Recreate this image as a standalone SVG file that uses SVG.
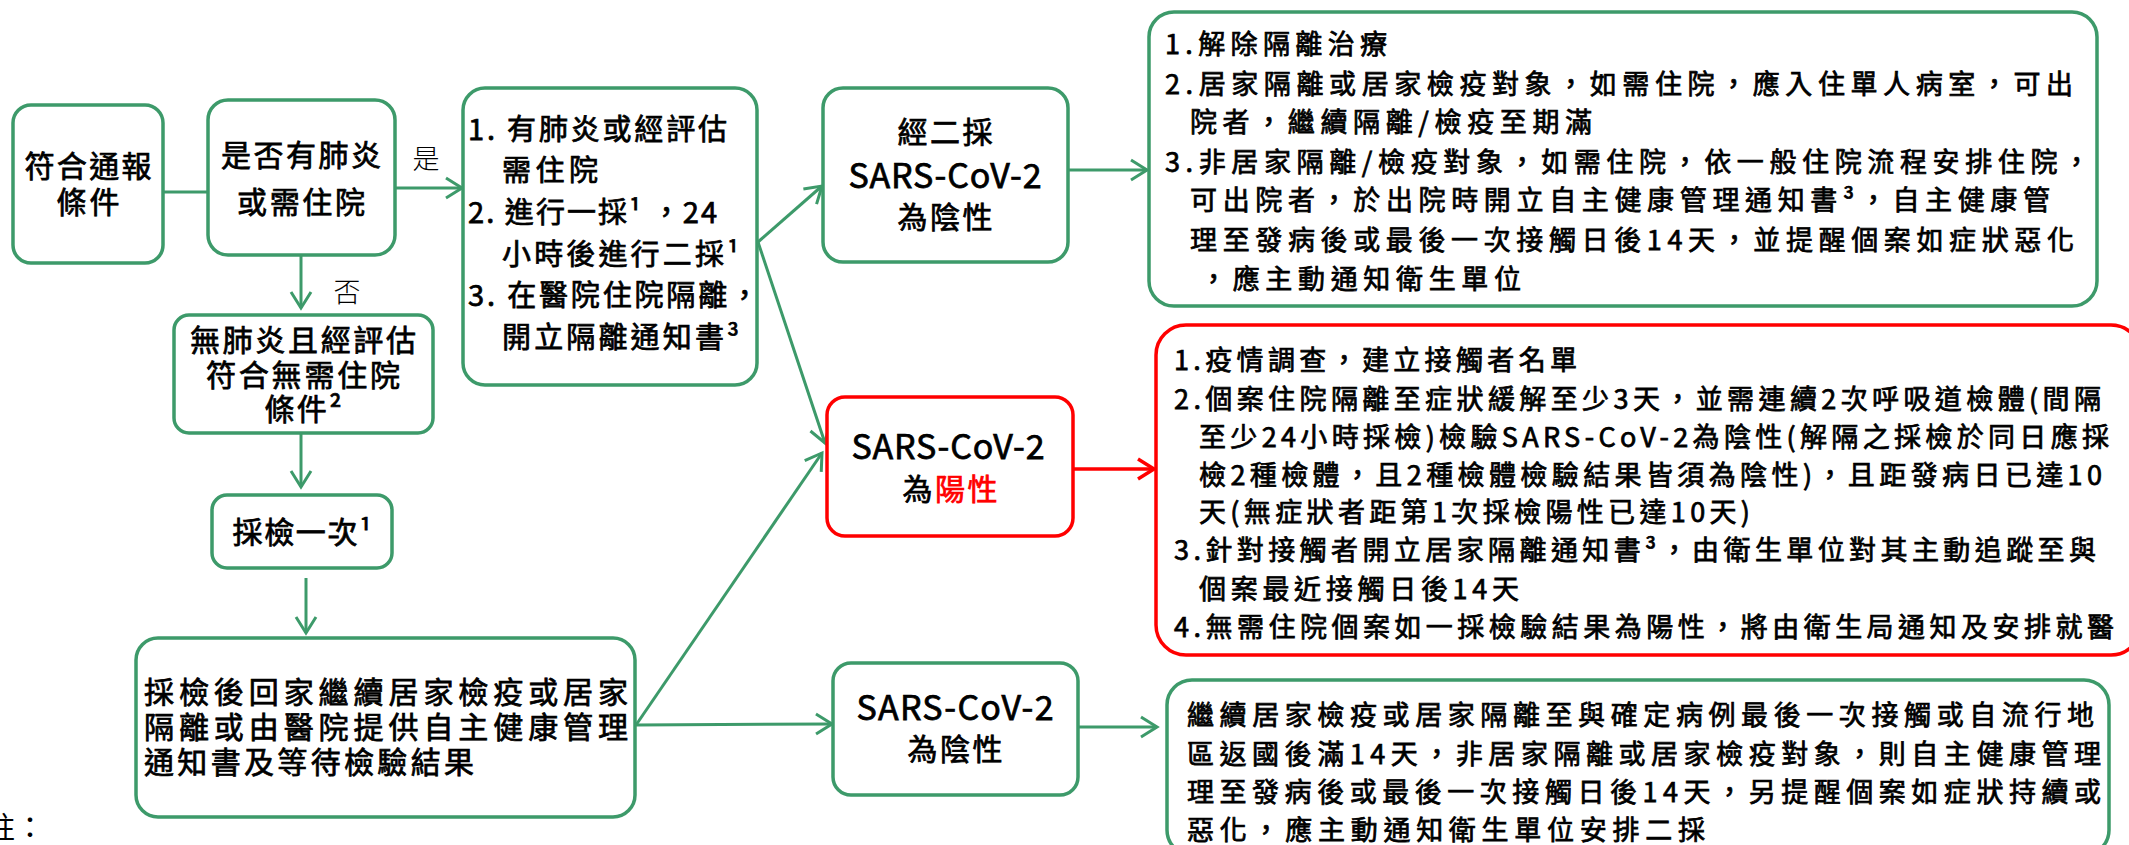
<svg xmlns="http://www.w3.org/2000/svg" width="2129" height="845" viewBox="0 0 2129 845">
<defs>
<style>
.bx{fill:#fff;stroke:#3D9A6A;stroke-width:3.5}
.rbx{fill:#fff;stroke:#FF0000;stroke-width:3.5}
.t{font-family:"Noto Sans CJK TC","Noto Sans",sans-serif;fill:#000;dominant-baseline:central}
.m{font-weight:400;stroke:#000;stroke-width:0.75}
.lt{font-weight:300}
.c{text-anchor:middle}
.f30{font-size:30px}
.f29{font-size:29px}
.f27{font-size:27px}
.f34{font-size:34px}
.cn{stroke:#3D9A6A;stroke-width:3;fill:none}
.rcn{stroke:#FF0000;stroke-width:3.5;fill:none}
.red{fill:#FF0000;stroke:#FF0000}
</style>
<marker id="ag" markerWidth="22" markerHeight="24" refX="18" refY="12" orient="auto" markerUnits="userSpaceOnUse">
<path d="M2,2 L18,12 L2,22" fill="none" stroke="#3D9A6A" stroke-width="3"/>
</marker>
<marker id="ar" markerWidth="22" markerHeight="24" refX="18" refY="12" orient="auto" markerUnits="userSpaceOnUse">
<path d="M2,2 L18,12 L2,22" fill="none" stroke="#FF0000" stroke-width="3.5"/>
</marker>
</defs>
<rect width="2129" height="845" fill="#fff"/>

<g id="connectors">
<line class="cn" x1="163" y1="192" x2="208" y2="192"/>
<line class="cn" x1="395" y1="188" x2="462" y2="188" marker-end="url(#ag)"/>
<line class="cn" x1="301" y1="255" x2="301" y2="308" marker-end="url(#ag)"/>
<line class="cn" x1="301" y1="433" x2="301" y2="487" marker-end="url(#ag)"/>
<line class="cn" x1="306" y1="578" x2="306" y2="633" marker-end="url(#ag)"/>
<line class="cn" x1="758" y1="242" x2="822" y2="186" marker-end="url(#ag)"/>
<line class="cn" x1="758" y1="242" x2="825" y2="443" marker-end="url(#ag)"/>
<line class="cn" x1="636" y1="725" x2="822" y2="453" marker-end="url(#ag)"/>
<line class="cn" x1="636" y1="725" x2="832" y2="724" marker-end="url(#ag)"/>
<line class="cn" x1="1068" y1="170" x2="1147" y2="170" marker-end="url(#ag)"/>
<line class="rcn" x1="1073" y1="469" x2="1154" y2="469" marker-end="url(#ar)"/>
<line class="cn" x1="1078" y1="727" x2="1157" y2="727" marker-end="url(#ag)"/>
<text class="t lt f27 c" x="426" y="157">是</text>
<text class="t lt f27 c" x="347" y="290">否</text>
</g>

<g id="nodeA">
<rect class="bx" x="13" y="105" width="150" height="158" rx="18"/>
<text class="t m f30 c" x="88" y="164" textLength="127">符合通報</text>
<text class="t m f30 c" x="88" y="200" textLength="63">條件</text>
</g>

<g id="nodeB">
<rect class="bx" x="208" y="100" width="187" height="155" rx="20"/>
<text class="t m f30 c" x="301" y="153" textLength="160">是否有肺炎</text>
<text class="t m f30 c" x="301" y="200" textLength="128">或需住院</text>
</g>

<g id="nodeC">
<rect class="bx" x="463" y="88" width="294" height="297" rx="22"/>
<text class="t m f29" x="468" y="127" textLength="259">1. 有肺炎或經評估</text>
<text class="t m f29" x="502" y="168" textLength="96">需住院</text>
<text class="t m f29" x="468" y="210" textLength="249">2. 進行一採¹ ，24</text>
<text class="t m f29" x="502" y="252" textLength="237">小時後進行二採¹</text>
<text class="t m f29" x="468" y="293" textLength="291">3. 在醫院住院隔離，</text>
<text class="t m f29" x="502" y="335" textLength="237">開立隔離通知書³</text>
</g>

<g id="nodeD">
<rect class="bx" x="174" y="315" width="259" height="118" rx="15"/>
<text class="t m f30 c" x="303" y="338" textLength="226">無肺炎且經評估</text>
<text class="t m f30 c" x="303" y="373" textLength="194">符合無需住院</text>
<text class="t m f30 c" x="303" y="407" textLength="77">條件²</text>
</g>

<g id="nodeE">
<rect class="bx" x="212" y="495" width="180" height="73" rx="15"/>
<text class="t m f30 c" x="302" y="530" textLength="139">採檢一次¹</text>
</g>

<g id="nodeF">
<rect class="bx" x="136" y="638" width="499" height="179" rx="22"/>
<text class="t m f30" x="144" y="690" textLength="484">採檢後回家繼續居家檢疫或居家</text>
<text class="t m f30" x="144" y="725" textLength="484">隔離或由醫院提供自主健康管理</text>
<text class="t m f30" x="144" y="760" textLength="330">通知書及等待檢驗結果</text>
</g>

<g id="nodeG">
<rect class="bx" x="823" y="88" width="245" height="174" rx="20"/>
<text class="t m f30 c" x="945" y="130" textLength="95">經二採</text>
<text class="t m f34 c" x="945" y="173" textLength="193">SARS-CoV-2</text>
<text class="t m f30 c" x="945" y="215" textLength="95">為陰性</text>
</g>

<g id="nodeP">
<rect class="rbx" x="827" y="397" width="246" height="139" rx="18"/>
<text class="t m f34 c" x="948" y="444" textLength="193">SARS-CoV-2</text>
<text class="t m f30 c" x="950" y="487" textLength="95">為<tspan class="red">陽性</tspan></text>
</g>

<g id="nodeN">
<rect class="bx" x="833" y="663" width="245" height="132" rx="18"/>
<text class="t m f34 c" x="955" y="705" textLength="197">SARS-CoV-2</text>
<text class="t m f30 c" x="955" y="747" textLength="95">為陰性</text>
</g>

<g id="nodeH">
<rect class="bx" x="1149" y="12" width="948" height="294" rx="25"/>
<text class="t m f27" x="1165" y="42" textLength="222">1.解除隔離治療</text>
<text class="t m f27" x="1165" y="82" textLength="908">2.居家隔離或居家檢疫對象，如需住院，應入住單人病室，可出</text>
<text class="t m f27" x="1190" y="120" textLength="402">院者，繼續隔離/檢疫至期滿</text>
<text class="t m f27" x="1165" y="160" textLength="925">3.非居家隔離/檢疫對象，如需住院，依一般住院流程安排住院，</text>
<text class="t m f27" x="1190" y="198" textLength="860">可出院者，於出院時開立自主健康管理通知書³，自主健康管</text>
<text class="t m f27" x="1190" y="238" textLength="884">理至發病後或最後一次接觸日後14天，並提醒個案如症狀惡化</text>
<text class="t m f27" x="1200" y="277" textLength="321">，應主動通知衛生單位</text>
</g>

<g id="nodeR">
<rect class="rbx" x="1156" y="325" width="985" height="330" rx="30"/>
<text class="t m f27" x="1174" y="358" textLength="403">1.疫情調查，建立接觸者名單</text>
<text class="t m f27" x="1174" y="397" textLength="927">2.個案住院隔離至症狀緩解至少3天，並需連續2次呼吸道檢體(間隔</text>
<text class="t m f27" x="1199" y="435" textLength="910">至少24小時採檢)檢驗SARS-CoV-2為陰性(解隔之採檢於同日應採</text>
<text class="t m f27" x="1199" y="473" textLength="903">檢2種檢體，且2種檢體檢驗結果皆須為陰性)，且距發病日已達10</text>
<text class="t m f27" x="1199" y="510" textLength="551">天(無症狀者距第1次採檢陽性已達10天)</text>
<text class="t m f27" x="1174" y="548" textLength="922">3.針對接觸者開立居家隔離通知書³，由衛生單位對其主動追蹤至與</text>
<text class="t m f27" x="1199" y="587" textLength="320">個案最近接觸日後14天</text>
<text class="t m f27" x="1174" y="625" textLength="940">4.無需住院個案如一採檢驗結果為陽性，將由衛生局通知及安排就醫</text>
</g>

<g id="nodeS">
<rect class="bx" x="1167" y="680" width="942" height="175" rx="25"/>
<text class="t m f27" x="1187" y="713" textLength="907">繼續居家檢疫或居家隔離至與確定病例最後一次接觸或自流行地</text>
<text class="t m f27" x="1187" y="752" textLength="914">區返國後滿14天，非居家隔離或居家檢疫對象，則自主健康管理</text>
<text class="t m f27" x="1187" y="790" textLength="914">理至發病後或最後一次接觸日後14天，另提醒個案如症狀持續或</text>
<text class="t m f27" x="1187" y="828" textLength="518">惡化，應主動通知衛生單位安排二採</text>
</g>

<g id="note">
<text class="t f30" x="-15" y="825">註：</text>
</g>
</svg>
